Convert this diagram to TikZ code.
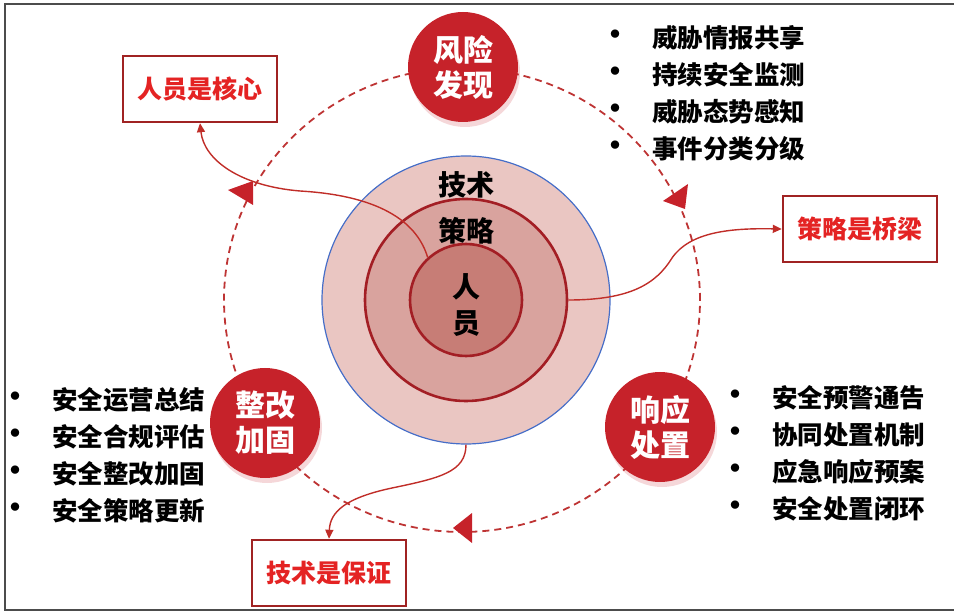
\documentclass[tikz,border=0pt]{standalone}
\usepackage{fontspec}
\setmainfont{Noto Sans CJK SC}
\usetikzlibrary{arrows.meta,shadows}
\definecolor{stagered}{RGB}{198,34,42}
\definecolor{flowred}{RGB}{190,52,52}
\definecolor{linkred}{RGB}{192,45,40}
\definecolor{boxred}{RGB}{160,35,35}
\definecolor{tagred}{RGB}{228,35,35}
\definecolor{techpink}{RGB}{234,198,194}
\definecolor{stratpink}{RGB}{217,163,158}
\definecolor{corepink}{RGB}{199,125,118}
\definecolor{ringred}{RGB}{163,30,36}
\definecolor{ringblue}{RGB}{70,110,200}
\begin{document}
\begin{tikzpicture}[x=1pt, y=-1pt,
    stage/.style={circle, fill=stagered, minimum size=110pt, inner sep=0pt, align=center,
        text=white, font=\fontsize{30}{35}\selectfont\bfseries,
        drop shadow={opacity=0.18, shadow xshift=2pt, shadow yshift=-5pt, fill=stagered}},
    tagbox/.style={draw=boxred, line width=2.4pt, fill=white, minimum width=154pt,
        minimum height=66pt, text=tagred, font=\fontsize{25}{30}\selectfont\bfseries},
    item/.style={anchor=west, inner sep=0pt, font=\fontsize{25.5}{30}\selectfont\bfseries},
    dot/.style={inner sep=0pt, font=\fontsize{30}{30}\selectfont\bfseries},
    ring/.style={circle, inner sep=0pt},
    mid/.style={font=\fontsize{28}{36}\selectfont\bfseries, align=center},
    link/.style={draw=linkred, line width=1.4pt, -{Triangle[length=9pt, width=8pt]}},
    flow/.style={draw=flowred, line width=1.8pt, dash pattern=on 7pt off 5pt}]
    \useasboundingbox (0,0) rectangle (954,612);
    % 边框
    \draw[gray!60!black, line width=1.5pt] (954,4) -- (5,4) -- (5,610) -- (954,610);

    % 同心圆
    \node[ring, minimum size=288pt, fill=techpink, draw=ringblue, line width=1.2pt] (tech) at (466,300) {};
    \node[ring, minimum size=202pt, fill=stratpink, draw=ringred, line width=2.6pt] (strat) at (466,300) {};
    \node[ring, minimum size=112pt, fill=corepink, draw=ringred, line width=2.6pt] (core) at (466,300) {};
    \node[mid] (techlbl) at (466,185) {技术};
    \node[mid] (stratlbl) at (466,231) {策略};
    \node[mid] (corelbl) at (466,305) {人\\员};

    % 循环
    \draw[flow] (462,300) ellipse [x radius=238pt, y radius=232pt];
    \fill[stagered] (228,190) -- (253,181) -- (253,205) -- cycle;
    \fill[stagered] (663,201) -- (688,184) -- (685,209) -- cycle;
    \fill[stagered] (453,528) -- (472,513) -- (472,543) -- cycle;

    \node[stage] (risk) at (463,67) {风险\\发现};
    \node[stage] (fix) at (265,423) {整改\\加固};
    \node[stage] (resp) at (660,427) {响应\\处置};

    % 标签框
    \node[tagbox] (hum) at (200,89) {人员是核心};
    \node[tagbox] (brg) at (860,229) {策略是桥梁};
    \node[tagbox] (grt) at (329,573) {技术是保证};

    \draw[link] (core.132) .. controls (418,225) and (385,196) .. (300,191)
        .. controls (240,186) and (204,160) .. (hum.south);
    \draw[link] (strat.east) .. controls (630,300) and (656,284) .. (672,258)
        .. controls (690,232) and (730,228) .. (brg.west);
    \draw[link] (tech.south) .. controls (466,472) and (440,478) .. (392,488)
        .. controls (345,498) and (330,512) .. (grt.north);

    % 要点
    \foreach \txt [count=\i] in {威胁情报共享, 持续安全监测, 威胁态势感知, 事件分类分级} {
        \node[item] (riskitem\i) at (652, 1+37*\i) {\txt};
        \node[dot] (riskdot\i) at ([xshift=-37pt]riskitem\i.west) {•};
    }
    \foreach \txt [count=\i] in {安全运营总结, 安全合规评估, 安全整改加固, 安全策略更新} {
        \node[item] (fixitem\i) at (52, 363+37*\i) {\txt};
        \node[dot] (fixdot\i) at ([xshift=-36pt]fixitem\i.west) {•};
    }
    \foreach \txt [count=\i] in {安全预警通告, 协同处置机制, 应急响应预案, 安全处置闭环} {
        \node[item] (respitem\i) at (772, 361+37*\i) {\txt};
        \node[dot] (respdot\i) at ([xshift=-37pt]respitem\i.west) {•};
    }
\end{tikzpicture}
\end{document}
